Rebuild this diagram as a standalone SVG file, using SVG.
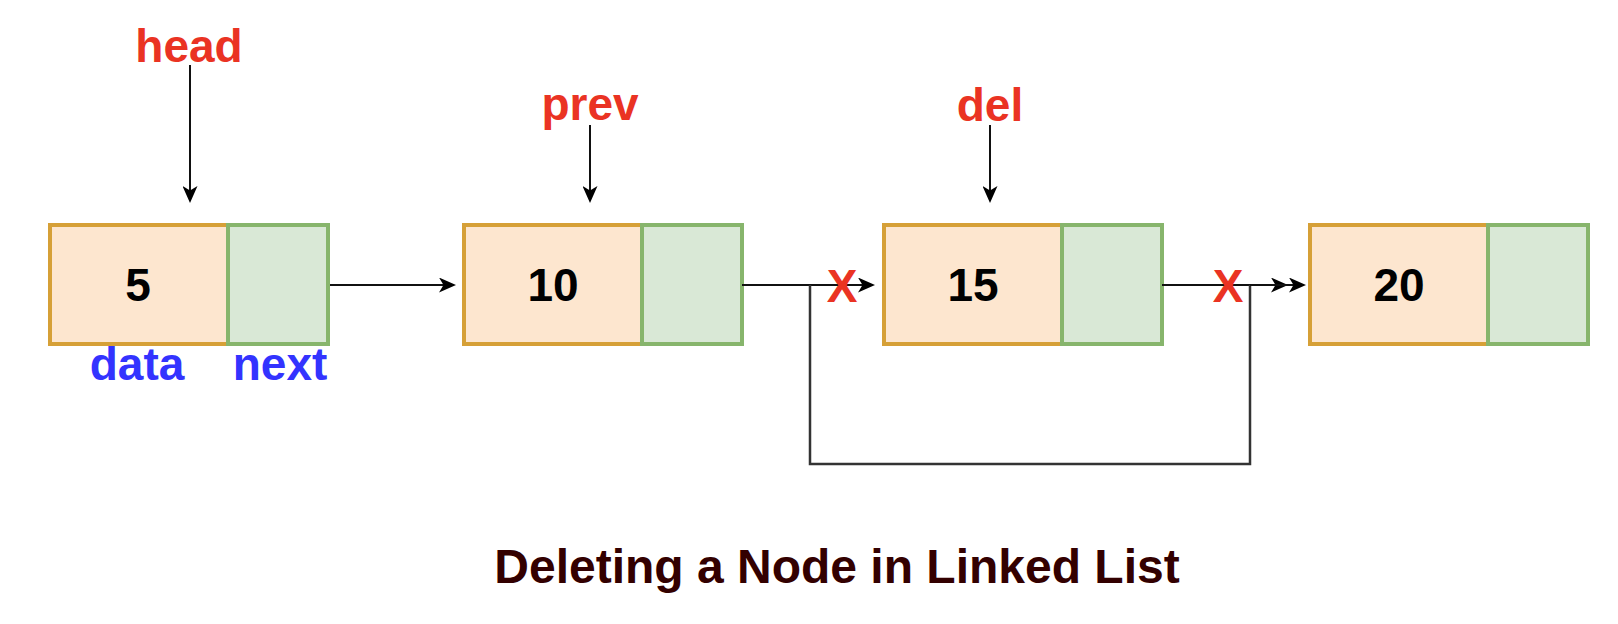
<svg xmlns="http://www.w3.org/2000/svg" width="1618" height="624" viewBox="0 0 1618 624">
  <style>
    .data { fill: #fde6cf; stroke: #d6a037; stroke-width: 4; }
    .next { fill: #d9e8d6; stroke: #87b56c; stroke-width: 4; }
    .num { font-family: "Liberation Sans", Arial, Helvetica, sans-serif; font-weight: bold; font-size: 46px; fill: #000; text-anchor: middle; }
    .ptr { font-family: "Liberation Sans", Arial, Helvetica, sans-serif; font-weight: bold; font-size: 46px; fill: #ea3323; text-anchor: middle; }
    .field { font-family: "Liberation Sans", Arial, Helvetica, sans-serif; font-weight: bold; font-size: 46px; fill: #3333ff; text-anchor: middle; }
    .title { font-family: "Liberation Sans", Arial, Helvetica, sans-serif; font-weight: bold; font-size: 48px; fill: #330000; text-anchor: middle; }
    .edge { fill: none; stroke: #111; stroke-width: 2; }
    .bypass { fill: none; stroke: #333; stroke-width: 2.5; }
  </style>
  <defs>
    <marker id="arrow" markerUnits="userSpaceOnUse" markerWidth="17" markerHeight="15" refX="9" refY="7.5" orient="auto">
      <path d="M0,0 L17,7.5 L0,15 L4.5,7.5 Z" fill="#000"/>
    </marker>
  </defs>

  <g id="node-5">
    <rect class="data" x="50" y="225" width="178" height="119"/>
    <rect class="next" x="228" y="225" width="100" height="119"/>
    <text class="num" x="138" y="301">5</text>
  </g>
  <g id="node-10">
    <rect class="data" x="464" y="225" width="178" height="119"/>
    <rect class="next" x="642" y="225" width="100" height="119"/>
    <text class="num" x="553" y="301">10</text>
  </g>
  <g id="node-15">
    <rect class="data" x="884" y="225" width="178" height="119"/>
    <rect class="next" x="1062" y="225" width="100" height="119"/>
    <text class="num" x="973" y="301">15</text>
  </g>
  <g id="node-20">
    <rect class="data" x="1310" y="225" width="178" height="119"/>
    <rect class="next" x="1488" y="225" width="100" height="119"/>
    <text class="num" x="1399" y="301">20</text>
  </g>

  <g id="labels">
    <text class="ptr" x="189" y="62">head</text>
    <text class="ptr" x="590" y="120">prev</text>
    <text class="ptr" x="990" y="121">del</text>
    <text class="field" x="137" y="380">data</text>
    <text class="field" x="280" y="380">next</text>
  </g>

  <g id="connectors">
    <path class="edge" d="M190,65 V195" marker-end="url(#arrow)"/>
    <path class="edge" d="M590,125 V195" marker-end="url(#arrow)"/>
    <path class="edge" d="M990,125 V195" marker-end="url(#arrow)"/>
    <path class="edge" d="M330,285 H448" marker-end="url(#arrow)"/>
    <path class="edge" d="M742,285 H867" marker-end="url(#arrow)"/>
    <path class="edge" d="M1162,285 H1280" marker-end="url(#arrow)"/>
    <path class="bypass" d="M810,285 V464 H1250 V285"/>
    <path class="edge" d="M1250,285 H1298" marker-end="url(#arrow)"/>
  </g>

  <g id="cross-marks">
    <text class="ptr" x="842" y="302">X</text>
    <text class="ptr" x="1228" y="302">X</text>
  </g>

  <g id="title">
    <text class="title" x="837" y="583">Deleting a Node in Linked List</text>
  </g>
</svg>
